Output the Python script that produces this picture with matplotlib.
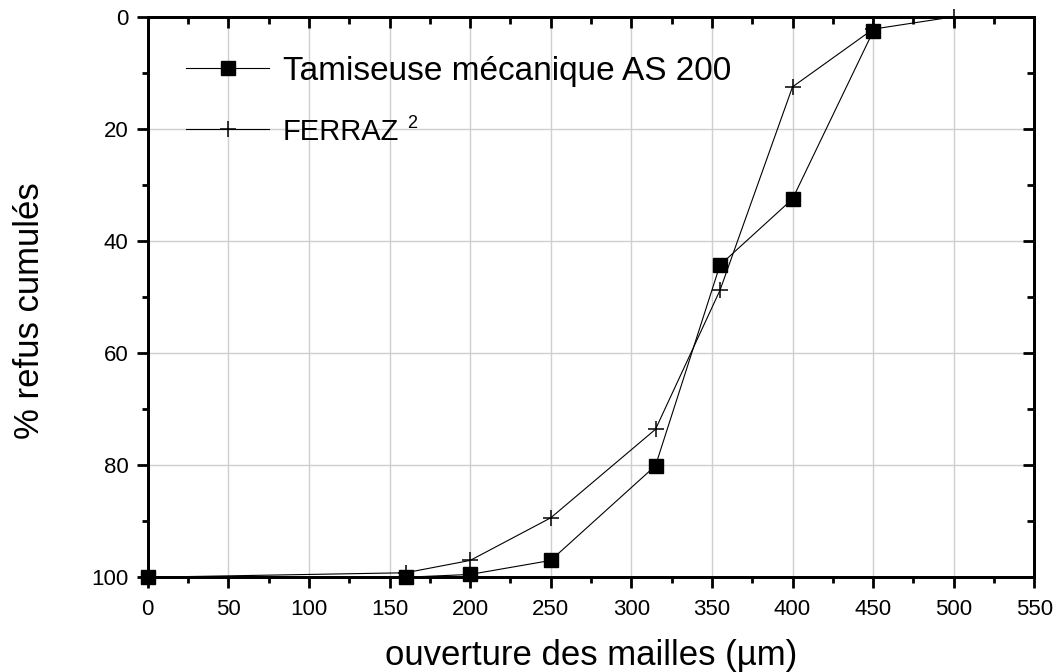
import matplotlib
matplotlib.use('Agg')
import matplotlib.pyplot as plt
from matplotlib.ticker import MultipleLocator

plt.rcParams['font.family'] = ['Liberation Sans', 'DejaVu Sans']

# data
x_tamis = [0, 160, 200, 250, 315, 355, 400, 450]
y_tamis = [100, 100, 99.5, 97, 80.1, 44.3, 32.5, 2.6]

x_ferraz = [0, 160, 200, 250, 315, 355, 400, 450, 500]
y_ferraz = [100, 99.2, 97, 89.4, 73.6, 48.8, 12.5, 2.2, 0]

label_tamis = 'Tamiseuse mécanique AS 200'
label_ferraz = 'FERRAZ'
ferraz_ref = '2'

fig = plt.figure(figsize=(10.63, 6.72), dpi=100)
ax = fig.add_axes([0.139, 0.141, 0.834, 0.834])

ax.plot(x_tamis, y_tamis, color='black', lw=0.8, marker='s', ms=9.5,
        label=label_tamis, zorder=3, clip_on=False)
ax.plot(x_ferraz, y_ferraz, color='black', lw=0.8, marker='+', ms=11,
        mew=1.1, label=label_ferraz, zorder=3, clip_on=False)

ax.set_xlim(0, 550)
ax.set_ylim(100, 0)
ax.xaxis.set_major_locator(MultipleLocator(50))
ax.xaxis.set_minor_locator(MultipleLocator(25))
ax.yaxis.set_major_locator(MultipleLocator(20))
ax.yaxis.set_minor_locator(MultipleLocator(10))

ax.grid(True, which='major', color='#cfcfcf', lw=1.0)
ax.set_axisbelow(True)

for s in ax.spines.values():
    s.set_linewidth(2)

ax.tick_params(which='major', direction='out', length=8, width=2,
               labelsize=16, pad=6)
ax.tick_params(axis='x', which='major', pad=8)
ax.tick_params(which='minor', direction='out', length=4.5, width=2)

# mirrored ticks on top and right, pointing in
top = ax.twiny()
top.set_xlim(ax.get_xlim())
top.xaxis.set_major_locator(MultipleLocator(50))
top.xaxis.set_minor_locator(MultipleLocator(25))
top.tick_params(which='major', direction='in', length=8, width=2, labeltop=False)
top.tick_params(which='minor', direction='in', length=5, width=2)
right = ax.twinx()
right.set_ylim(ax.get_ylim())
right.yaxis.set_major_locator(MultipleLocator(20))
right.yaxis.set_minor_locator(MultipleLocator(10))
right.tick_params(which='major', direction='in', length=8, width=2, labelright=False)
right.tick_params(which='minor', direction='in', length=5, width=2)
for t in (top, right):
    for s in t.spines.values():
        s.set_linewidth(2)

ax.set_xlabel('ouverture des mailles (µm)', fontsize=25, labelpad=13)
ax.set_ylabel('% refus cumulés', fontsize=25)
ax.yaxis.set_label_coords(-0.115, 0.475)

leg = ax.legend(loc='upper left', bbox_to_anchor=(0.043, 0.93), frameon=False,
                fontsize=24, handlelength=2.5, handletextpad=0.4,
                labelspacing=0.9, borderaxespad=0, borderpad=0)
leg.get_texts()[1].set_fontsize(21)

# small superscript reference after FERRAZ
fig.canvas.draw()
bb = leg.get_texts()[1].get_window_extent()
inv = fig.transFigure.inverted()
x0, y0 = inv.transform((bb.x1 + 8, bb.y1 + 3))
fig.text(x0, y0, ferraz_ref, fontsize=13, va='top', ha='left')

fig.savefig('out.png', dpi=100)
